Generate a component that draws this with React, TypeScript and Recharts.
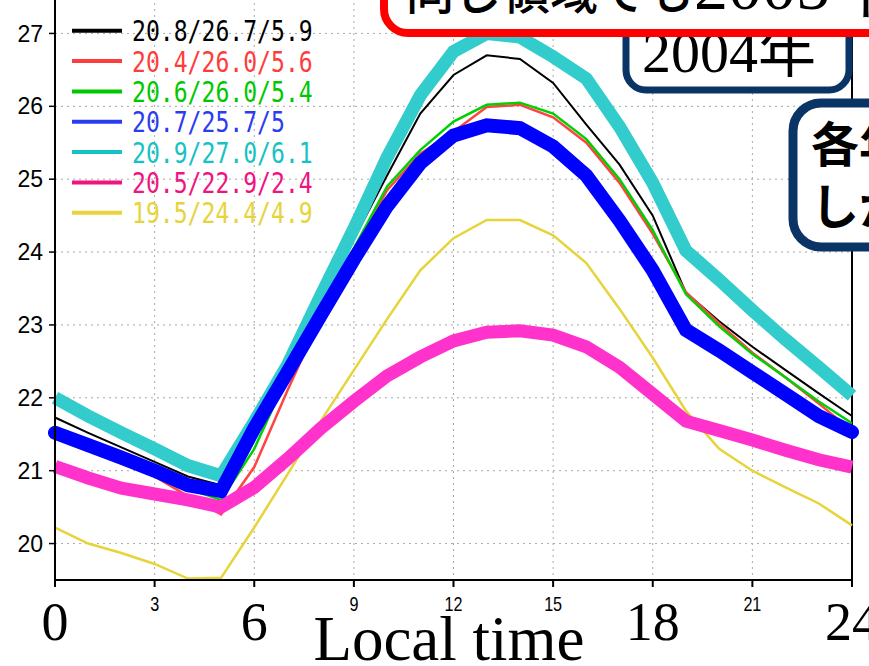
import React from "react";
import {
  LineChart,
  Line,
  XAxis,
  YAxis,
  CartesianGrid,
  ReferenceLine,
} from "recharts";

// local time (hours) and hourly mean temperature for each case
const hours = [0, 1, 2, 3, 4, 5, 6, 7, 8, 9, 10, 11, 12, 13, 14, 15, 16, 17, 18, 19, 20, 21, 22, 23, 24];

const caseBlack = [21.73, 21.52, 21.32, 21.12, 20.92, 20.8, 21.62, 22.45, 23.35, 24.18, 25.05, 25.9, 26.43, 26.7, 26.65, 26.32, 25.75, 25.2, 24.5, 23.44, 23.05, 22.7, 22.38, 22.06, 21.75];
const caseRed = [21.45, 21.3, 21.15, 20.92, 20.65, 20.4, 21.05, 22.1, 23.1, 24.0, 24.85, 25.35, 25.65, 25.99, 26.02, 25.85, 25.5, 24.95, 24.25, 23.45, 23.02, 22.62, 22.28, 21.92, 21.55];
const caseGreen = [21.6, 21.4, 21.2, 21.0, 20.75, 20.6, 21.3, 22.3, 23.2, 24.05, 24.9, 25.4, 25.79, 26.02, 26.05, 25.9, 25.55, 25.0, 24.3, 23.42, 22.98, 22.6, 22.28, 21.95, 21.65];
const caseBlue = [21.52, 21.35, 21.18, 21.0, 20.8, 20.72, 21.58, 22.35, 23.13, 23.9, 24.63, 25.22, 25.6, 25.74, 25.7, 25.45, 25.05, 24.43, 23.75, 22.93, 22.65, 22.35, 22.05, 21.75, 21.53];
const caseCyan = [22.0, 21.75, 21.52, 21.3, 21.07, 20.93, 21.67, 22.45, 23.4, 24.32, 25.3, 26.15, 26.75, 27.0, 26.95, 26.68, 26.38, 25.72, 24.95, 24.02, 23.62, 23.2, 22.8, 22.42, 22.03];
const casePink = [21.06, 20.9, 20.76, 20.68, 20.6, 20.5, 20.77, 21.16, 21.58, 21.95, 22.3, 22.56, 22.78, 22.9, 22.92, 22.86, 22.7, 22.42, 22.05, 21.68, 21.55, 21.42, 21.28, 21.15, 21.05];
const caseYellow = [20.22, 20.0, 19.87, 19.72, 19.52, 19.53, 20.22, 20.95, 21.68, 22.38, 23.08, 23.75, 24.19, 24.44, 24.44, 24.23, 23.85, 23.22, 22.55, 21.82, 21.3, 21.0, 20.77, 20.55, 20.25];

// min / max / range shown in the legend
const legendLabels = [
  "20.8/26.7/5.9",
  "20.4/26.0/5.6",
  "20.6/26.0/5.4",
  "20.7/25.7/5",
  "20.9/27.0/6.1",
  "20.5/22.9/2.4",
  "19.5/24.4/4.9",
];

const xTicks = [0, 3, 6, 9, 12, 15, 18, 21, 24];
const bigXTicks = [0, 6, 18, 24];
const yTicks = [20, 21, 22, 23, 24, 25, 26, 27];

const keys = ["black", "red", "green", "blue", "cyan", "pink", "yellow"];
const values = [caseBlack, caseRed, caseGreen, caseBlue, caseCyan, casePink, caseYellow];

const rows = hours.map((h, i) => {
  const r: Record<string, number> = { hour: h };
  keys.forEach((k, j) => (r[k] = values[j][i]));
  return r;
});

const lineColor: Record<string, string> = {
  black: "#000000",
  red: "#ff4444",
  green: "#00d000",
  blue: "#0000ff",
  cyan: "#33cccc",
  pink: "#ff33cc",
  yellow: "#e6d43a",
};
const labelColor = ["#000000", "#ff3c3c", "#00c800", "#2b3cf0", "#16c2c2", "#f0147f", "#e6d43a"];
const lineWidth: Record<string, number> = {
  black: 2, red: 2.5, green: 2.5, blue: 14, cyan: 13, pink: 13, yellow: 2.5,
};
const drawOrder = ["yellow", "black", "red", "green", "cyan", "blue", "pink"];

const TimeTick = (props: any) => {
  const { x, y, payload } = props;
  const v = payload.value;
  if (bigXTicks.includes(v)) {
    return (
      <text x={x} y={y + 51} textAnchor="middle" fontFamily="Liberation Serif" fontSize={54} fill="#000">
        {v}
      </text>
    );
  }
  const s = String(v);
  return (
    <text
      x={x}
      y={y + 22}
      textAnchor="middle"
      fontFamily="Liberation Sans"
      fontSize={21}
      fill="#000"
      textLength={s.length * 9}
      lengthAdjust="spacingAndGlyphs"
    >
      {s}
    </text>
  );
};

export default function App() {
  return (
    <div style={{ position: "absolute", left: 0, top: 0, width: 869, height: 666, overflow: "hidden", background: "#fff" }}>
      <div style={{ position: "absolute", left: 0, top: -20 }}>
        <LineChart width={869} height={700} data={rows} margin={{ top: 17, right: 17, bottom: 30, left: 0 }}>
          <CartesianGrid stroke="#a8a8a8" strokeDasharray="2 4" />
          <XAxis
            dataKey="hour"
            type="number"
            domain={[0, 24]}
            ticks={xTicks}
            height={70}
            tickSize={7}
            tick={<TimeTick />}
            axisLine={{ stroke: "#000", strokeWidth: 2 }}
            tickLine={{ stroke: "#000", strokeWidth: 2 }}
          />
          <YAxis
            type="number"
            domain={[19.5, 27.5]}
            ticks={yTicks}
            width={55}
            tickSize={6}
            tickMargin={6}
            tick={{ fill: "#000", fontSize: 23, fontFamily: "Liberation Sans" }}
            axisLine={{ stroke: "#000", strokeWidth: 2 }}
            tickLine={{ stroke: "#000", strokeWidth: 1.5 }}
          />
          <ReferenceLine x={24} stroke="#000" strokeWidth={2} />
          {drawOrder.map((k) => (
            <Line
              key={k}
              type="linear"
              dataKey={k}
              stroke={lineColor[k]}
              strokeWidth={lineWidth[k]}
              strokeLinecap={k === "blue" ? "round" : "butt"}
              dot={false}
              activeDot={false}
              isAnimationActive={false}
            />
          ))}
        </LineChart>
      </div>

      <svg width={869} height={666} style={{ position: "absolute", left: 0, top: 0, pointerEvents: "none" }}>
        {/* legend */}
        {legendLabels.map((t, i) => {
          const y = 30.7 + i * 30.35;
          return (
            <g key={t}>
              <line x1={72} x2={122} y1={y} y2={y} stroke={labelColor[i]} strokeWidth={4} />
              <text
                x={132}
                y={y + 10.5}
                fontFamily="DejaVu Sans Mono"
                fontSize={29}
                fill={labelColor[i]}
                textLength={t.length * 13.9}
                lengthAdjust="spacingAndGlyphs"
              >
                {t}
              </text>
            </g>
          );
        })}

        <text x={449} y={660} textAnchor="middle" fontFamily="Liberation Serif" fontSize={63} fill="#000">
          Local time
        </text>

        {/* call-out boxes */}
        <rect x={626} y={10} width={223} height={80} rx={20} fill="#fff" stroke="#0a3466" strokeWidth={7} />
        <text x={642} y={72} fontFamily="Liberation Serif, Noto Sans CJK JP" fontSize={58} fill="#000">
          2004年
        </text>

        <rect x={384} y={-50} width={560} height={83} rx={24} fill="#fff" stroke="#ff0000" strokeWidth={8} />
        <text x={406} y={9} fontSize={48} fill="#000" fontFamily="Noto Sans CJK JP" fontWeight={500}>
          同じ領域でも
          <tspan fontFamily="Liberation Serif" fontSize={68} fontWeight={400}>2005年</tspan>
        </text>

        <rect x={793} y={103} width={200} height={144} rx={28} fill="#fff" stroke="#0a3466" strokeWidth={9} />
        <text x={811} y={162} fontSize={48} fontFamily="Noto Sans CJK JP" fontWeight={700} fill="#000">
          各年
        </text>
        <text x={811} y={224} fontSize={48} fontFamily="Noto Sans CJK JP" fontWeight={700} fill="#000">
          しか
        </text>
      </svg>
    </div>
  );
}
